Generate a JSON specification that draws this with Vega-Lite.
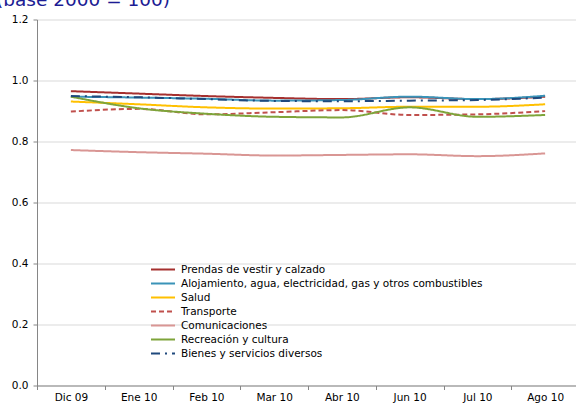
{
  "$schema": "https://vega.github.io/schema/vega-lite/v6.json",
  "width": 539,
  "height": 366,
  "autosize": {"type": "none"},
  "padding": {"left": 37, "top": 19.5, "right": 0, "bottom": 24.5},
  "title": {
    "text": "(base 2000 = 100)",
    "anchor": "start",
    "frame": "group",
    "orient": "top",
    "baseline": "alphabetic",
    "offset": 5,
    "dy": 15,
    "dx": -41,
    "fontSize": 18.5,
    "font": "DejaVu Sans",
    "fontWeight": "normal",
    "color": "#1C1C94"
  },
  "data": {
    "values": [
      {"mes": "Dic 09", "serie": "Prendas de vestir y calzado", "valor": 0.965},
      {"mes": "Ene 10", "serie": "Prendas de vestir y calzado", "valor": 0.957},
      {"mes": "Feb 10", "serie": "Prendas de vestir y calzado", "valor": 0.949},
      {"mes": "Mar 10", "serie": "Prendas de vestir y calzado", "valor": 0.943},
      {"mes": "Abr 10", "serie": "Prendas de vestir y calzado", "valor": 0.939},
      {"mes": "Jun 10", "serie": "Prendas de vestir y calzado", "valor": 0.945},
      {"mes": "Jul 10", "serie": "Prendas de vestir y calzado", "valor": 0.939},
      {"mes": "Ago 10", "serie": "Prendas de vestir y calzado", "valor": 0.947},
      {"mes": "Dic 09", "serie": "Alojamiento, agua, electricidad, gas y otros combustibles", "valor": 0.947},
      {"mes": "Ene 10", "serie": "Alojamiento, agua, electricidad, gas y otros combustibles", "valor": 0.944},
      {"mes": "Feb 10", "serie": "Alojamiento, agua, electricidad, gas y otros combustibles", "valor": 0.940},
      {"mes": "Mar 10", "serie": "Alojamiento, agua, electricidad, gas y otros combustibles", "valor": 0.934},
      {"mes": "Abr 10", "serie": "Alojamiento, agua, electricidad, gas y otros combustibles", "valor": 0.936},
      {"mes": "Jun 10", "serie": "Alojamiento, agua, electricidad, gas y otros combustibles", "valor": 0.947},
      {"mes": "Jul 10", "serie": "Alojamiento, agua, electricidad, gas y otros combustibles", "valor": 0.939},
      {"mes": "Ago 10", "serie": "Alojamiento, agua, electricidad, gas y otros combustibles", "valor": 0.950},
      {"mes": "Dic 09", "serie": "Salud", "valor": 0.931},
      {"mes": "Ene 10", "serie": "Salud", "valor": 0.922},
      {"mes": "Feb 10", "serie": "Salud", "valor": 0.912},
      {"mes": "Mar 10", "serie": "Salud", "valor": 0.908},
      {"mes": "Abr 10", "serie": "Salud", "valor": 0.909},
      {"mes": "Jun 10", "serie": "Salud", "valor": 0.914},
      {"mes": "Jul 10", "serie": "Salud", "valor": 0.914},
      {"mes": "Ago 10", "serie": "Salud", "valor": 0.922},
      {"mes": "Dic 09", "serie": "Transporte", "valor": 0.898},
      {"mes": "Ene 10", "serie": "Transporte", "valor": 0.907},
      {"mes": "Feb 10", "serie": "Transporte", "valor": 0.889},
      {"mes": "Mar 10", "serie": "Transporte", "valor": 0.896},
      {"mes": "Abr 10", "serie": "Transporte", "valor": 0.903},
      {"mes": "Jun 10", "serie": "Transporte", "valor": 0.887},
      {"mes": "Jul 10", "serie": "Transporte", "valor": 0.889},
      {"mes": "Ago 10", "serie": "Transporte", "valor": 0.900},
      {"mes": "Dic 09", "serie": "Comunicaciones", "valor": 0.772},
      {"mes": "Ene 10", "serie": "Comunicaciones", "valor": 0.765},
      {"mes": "Feb 10", "serie": "Comunicaciones", "valor": 0.760},
      {"mes": "Mar 10", "serie": "Comunicaciones", "valor": 0.754},
      {"mes": "Abr 10", "serie": "Comunicaciones", "valor": 0.756},
      {"mes": "Jun 10", "serie": "Comunicaciones", "valor": 0.758},
      {"mes": "Jul 10", "serie": "Comunicaciones", "valor": 0.752},
      {"mes": "Ago 10", "serie": "Comunicaciones", "valor": 0.761},
      {"mes": "Dic 09", "serie": "Recreación y cultura", "valor": 0.947},
      {"mes": "Ene 10", "serie": "Recreación y cultura", "valor": 0.909},
      {"mes": "Feb 10", "serie": "Recreación y cultura", "valor": 0.891},
      {"mes": "Mar 10", "serie": "Recreación y cultura", "valor": 0.881},
      {"mes": "Abr 10", "serie": "Recreación y cultura", "valor": 0.879},
      {"mes": "Jun 10", "serie": "Recreación y cultura", "valor": 0.912},
      {"mes": "Jul 10", "serie": "Recreación y cultura", "valor": 0.881},
      {"mes": "Ago 10", "serie": "Recreación y cultura", "valor": 0.887},
      {"mes": "Dic 09", "serie": "Bienes y servicios diversos", "valor": 0.949},
      {"mes": "Ene 10", "serie": "Bienes y servicios diversos", "valor": 0.945},
      {"mes": "Feb 10", "serie": "Bienes y servicios diversos", "valor": 0.939},
      {"mes": "Mar 10", "serie": "Bienes y servicios diversos", "valor": 0.933},
      {"mes": "Abr 10", "serie": "Bienes y servicios diversos", "valor": 0.932},
      {"mes": "Jun 10", "serie": "Bienes y servicios diversos", "valor": 0.934},
      {"mes": "Jul 10", "serie": "Bienes y servicios diversos", "valor": 0.936},
      {"mes": "Ago 10", "serie": "Bienes y servicios diversos", "valor": 0.944}
    ]
  },
  "mark": {"type": "line", "interpolate": "monotone", "strokeWidth": 2},
  "encoding": {
    "x": {
      "field": "mes",
      "type": "ordinal",
      "sort": ["Dic 09", "Ene 10", "Feb 10", "Mar 10", "Abr 10", "Jun 10", "Jul 10", "Ago 10"],
      "scale": {"type": "band", "range": [0, 542], "paddingInner": 0, "paddingOuter": 0},
      "axis": {
        "title": null,
        "labelAngle": 0,
        "tickBand": "extent",
        "grid": false,
        "domainColor": "#868686",
        "tickColor": "#868686",
        "tickSize": 4,
        "labelPadding": 3,
        "labelFont": "DejaVu Sans",
        "labelFontSize": 10.5,
        "labelColor": "#000000"
      }
    },
    "y": {
      "field": "valor",
      "type": "quantitative",
      "scale": {"domain": [0, 1.2]},
      "axis": {
        "title": null,
        "values": [0, 0.2, 0.4, 0.6, 0.8, 1.0, 1.2],
        "format": ".1f",
        "grid": true,
        "gridColor": "#D9D9D9",
        "domainColor": "#868686",
        "tickColor": "#868686",
        "tickSize": 4,
        "labelPadding": 5,
        "labelFont": "DejaVu Sans",
        "labelFontSize": 10.5,
        "labelColor": "#000000"
      }
    },
    "color": {
      "field": "serie",
      "type": "nominal",
      "scale": {
        "domain": ["Prendas de vestir y calzado", "Alojamiento, agua, electricidad, gas y otros combustibles", "Salud", "Transporte", "Comunicaciones", "Recreación y cultura", "Bienes y servicios diversos"],
        "range": ["#A5302F", "#3A93B8", "#FFC000", "#C0504D", "#D99694", "#7EA43A", "#1F497D"]
      },
      "legend": {
        "title": null,
        "orient": "none",
        "legendX": 119,
        "legendY": 243,
        "symbolType": "M-2,0H2",
        "symbolSize": 144,
        "symbolStrokeWidth": 2,
        "labelFont": "DejaVu Sans",
        "labelFontSize": 10.5,
        "labelColor": "#000000",
        "labelOffset": 11,
        "labelLimit": 420,
        "rowPadding": 1,
        "padding": 0
      }
    },
    "strokeDash": {
      "field": "serie",
      "type": "nominal",
      "scale": {
        "domain": ["Prendas de vestir y calzado", "Alojamiento, agua, electricidad, gas y otros combustibles", "Salud", "Transporte", "Comunicaciones", "Recreación y cultura", "Bienes y servicios diversos"],
        "range": [[1, 0], [1, 0], [1, 0], [5, 3], [1, 0], [1, 0], [9, 5, 2, 5]]
      },
      "legend": {
        "title": null,
        "orient": "none",
        "legendX": 119,
        "legendY": 243,
        "symbolType": "M-2,0H2",
        "symbolSize": 144,
        "symbolStrokeWidth": 2,
        "labelFont": "DejaVu Sans",
        "labelFontSize": 10.5,
        "labelColor": "#000000",
        "labelOffset": 11,
        "labelLimit": 420,
        "rowPadding": 1,
        "padding": 0
      }
    }
  },
  "config": {
    "view": {"stroke": null},
    "font": "DejaVu Sans"
  }
}
